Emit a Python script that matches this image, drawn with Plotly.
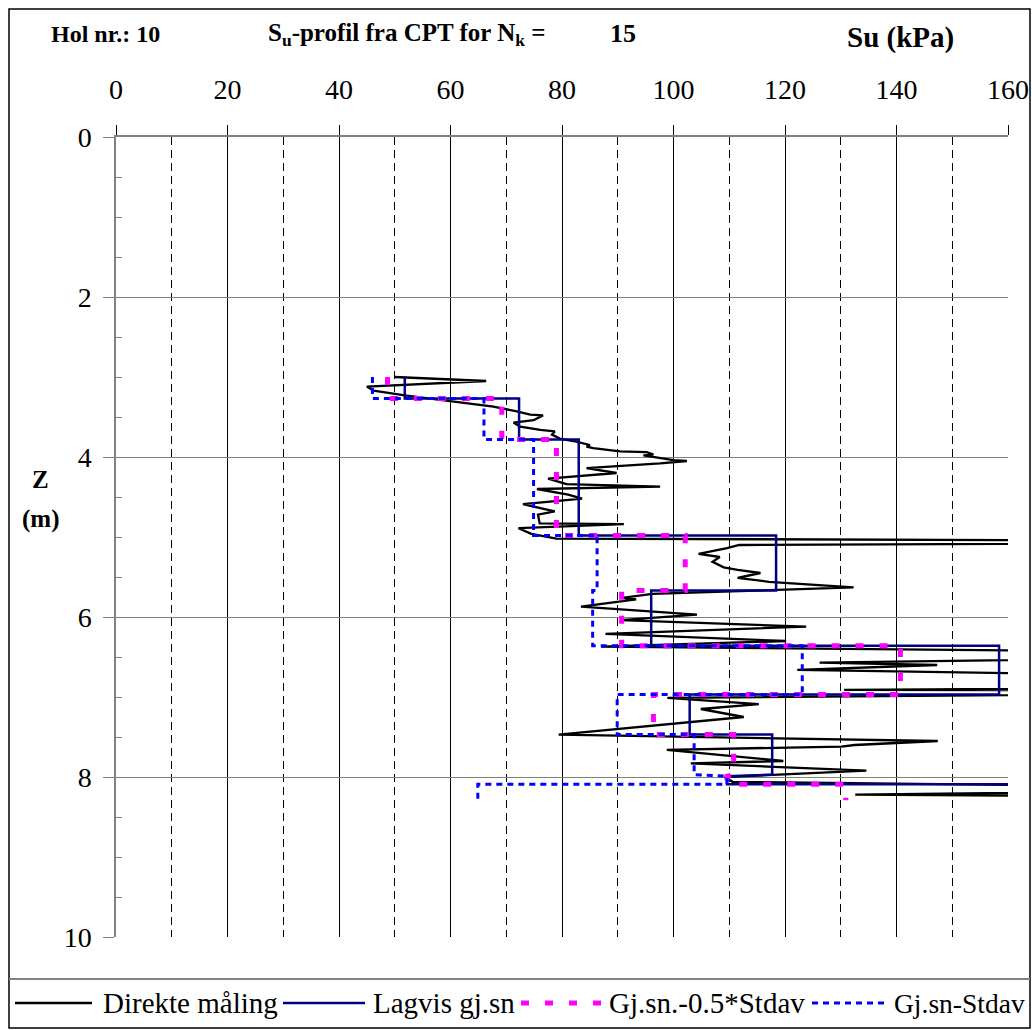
import plotly.graph_objects as go

# ---------------- data ----------------
# Direct measurement (Su in kPa vs depth Z in m)
su_direct = [50.0, 66.4, 45.0, 46.2, 51.8, 58.7, 63.5, 67.7, 71.9, 74.3, 76.6, 74.9, 71.3, 72.5,
             76.1, 78.7, 78.2, 79.6, 82.0, 85.0, 84.4, 85.6, 90.4, 95.2, 96.4, 94.6, 100.0, 102.4,
             97.6, 84.4, 89.8, 77.5, 80.8, 97.6, 75.5, 81.1, 83.6, 73.0, 78.7, 75.7, 76.0, 91.1,
             72.2, 74.5, 79.0, 260.0, 111.8, 109.6, 104.5, 108.3, 107.0, 109.0, 111.5, 115.6, 111.5,
             117.1, 132.3, 96.2, 90.8, 93.3, 83.4, 104.2, 90.5, 123.8, 87.8, 120.2, 87.0, 240.0,
             126.2, 147.3, 122.2, 300.0, 130.6, 250.0, 98.9, 115.3, 104.9, 112.6, 79.4, 147.4,
             132.5, 130.1, 98.8, 119.7, 103.1, 134.6, 109.2, 110.6, 230.0, 132.6, 220.0]
depth_direct = [3.00, 3.05, 3.12, 3.17, 3.23, 3.29, 3.33, 3.37, 3.43, 3.47, 3.48, 3.54, 3.57, 3.62,
                3.66, 3.68, 3.72, 3.77, 3.80, 3.85, 3.87, 3.89, 3.93, 3.94, 3.97, 3.98, 4.04, 4.05,
                4.08, 4.14, 4.20, 4.27, 4.34, 4.37, 4.40, 4.47, 4.52, 4.59, 4.68, 4.72, 4.83, 4.84,
                4.89, 4.96, 5.02, 5.06, 5.10, 5.14, 5.21, 5.25, 5.31, 5.38, 5.41, 5.45, 5.51,
                5.56, 5.63, 5.71, 5.76, 5.78, 5.87, 5.97, 6.04, 6.12, 6.21, 6.30, 6.37, 6.47,
                6.57, 6.60, 6.66, 6.85, 6.91, 6.93, 7.01, 7.09, 7.15, 7.25, 7.47, 7.55,
                7.60, 7.62, 7.66, 7.80, 7.83, 7.92, 8.00, 8.06, 8.15, 8.22, 8.26]

# Layer statistics
layer_top = [3.00, 3.27, 3.78, 4.98, 5.67, 6.36, 6.97, 7.47, 7.99, 8.09]
layer_bot = [3.27, 3.78, 4.98, 5.67, 6.36, 6.97, 7.47, 7.97, 8.09, 8.29]
layer_mean = [51.8, 72.3, 83.0, 118.4, 96.0, 158.4, 102.9, 117.7, 109.6, 197.0]
layer_mean_m05sd = [48.7, 69.2, 79.0, 102.1, 90.7, 140.7, 96.4, 110.8, 109.6, 130.9]
layer_mean_m1sd = [46.0, 66.0, 74.9, 86.3, 85.5, 123.1, 89.9, 103.7, 109.6, 64.9]

series_names = ["Direkte måling", "Lagvis gj.sn", "Gj.sn.-0.5*Stdav", "Gj.sn-Stdav"]
x_ticks = [0, 20, 40, 60, 80, 100, 120, 140, 160]
x_minor = [10, 30, 50, 70, 90, 110, 130, 150]
y_ticks = [0, 2, 4, 6, 8, 10]
y_minor = [0.5, 1, 1.5, 2.5, 3, 3.5, 4.5, 5, 5.5, 6.5, 7, 7.5, 8.5, 9, 9.5]

FONT = "Liberation Serif"
W, H = 1032, 1030
L, R, T, B = 116, 24, 137, 93
PW, PH = W - L - R, H - T - B


def px(x):
    return (x - L) / PW


def py(y):
    return (H - B - y) / PH


def steps(values):
    xs, ys = [], []
    for v, t, b in zip(values, layer_top, layer_bot):
        xs += [v, v]
        ys += [t, b]
    return xs, ys


styles = [
    dict(color="black", width=2.3),
    dict(color="#000080", width=2.5),
    dict(color="#FF00FF", width=5, dash="8px,16px"),
    dict(color="#0000FF", width=3, dash="6px,5px"),
]

fig = go.Figure()
fig.add_trace(go.Scatter(x=su_direct, y=depth_direct, mode="lines", name=series_names[0],
                         line=styles[0], showlegend=False))
for name, vals, st in zip(series_names[1:], [layer_mean, layer_mean_m05sd, layer_mean_m1sd], styles[1:]):
    xs, ys = steps(vals)
    fig.add_trace(go.Scatter(x=xs, y=ys, mode="lines", name=name, line=st, showlegend=False))

fig.update_layout(
    width=W, height=H,
    margin=dict(l=L, r=R, t=T, b=B, autoexpand=False),
    paper_bgcolor="white", plot_bgcolor="white",
    font=dict(family=FONT, color="black"),
    xaxis=dict(
        side="top", range=[0, 160], tickvals=x_ticks, ticks="outside", ticklen=10,
        tickcolor="black", tickwidth=1, showline=True, linecolor="#808080", linewidth=1.5,
        showgrid=True, gridcolor="black", gridwidth=1, zeroline=False, automargin=False,
        tickfont=dict(family=FONT, size=28, color="black"), ticklabelstandoff=15,
        minor=dict(tickvals=x_minor, showgrid=True, gridcolor="black", griddash="8px,5px", gridwidth=1),
    ),
    yaxis=dict(
        range=[10, 0], tickvals=y_ticks, ticks="outside", ticklen=11, tickcolor="#808080",
        showline=True, linecolor="#808080", linewidth=1.5, showgrid=True, gridcolor="#808080",
        gridwidth=1, zeroline=False, automargin=False,
        tickfont=dict(family=FONT, size=28, color="black"), ticklabelstandoff=6,
        minor=dict(tickvals=y_minor, ticks="inside", ticklen=6, tickcolor="#808080", showgrid=False),
    ),
)

shapes = []
annotations = []
# outer border and legend separator
shapes.append(dict(type="rect", xref="paper", yref="paper", x0=px(9), x1=px(1030), y0=py(1028), y1=py(9),
                   line=dict(color="black", width=1.5), layer="above"))
shapes.append(dict(type="line", xref="paper", yref="paper", x0=px(9), x1=px(1030), y0=py(979), y1=py(979),
                   line=dict(color="#808080", width=2)))

# header texts
annotations.append(dict(text="<b>Hol nr.: 10</b>", x=px(49), y=py(34), xanchor="left", yanchor="middle",
                        font=dict(family=FONT, size=24)))
annotations.append(dict(text="<b>S<sub>u</sub>-profil fra CPT for N<sub>k</sub> =</b>", x=px(266), y=py(34),
                        xanchor="left", yanchor="middle", font=dict(family=FONT, size=25)))
annotations.append(dict(text="<b>15</b>", x=px(608), y=py(33), xanchor="left", yanchor="middle",
                        font=dict(family=FONT, size=26)))
annotations.append(dict(text="<b>Su (kPa)</b>", x=px(845), y=py(38), xanchor="left", yanchor="middle",
                        font=dict(family=FONT, size=29)))
annotations.append(dict(text="<b>Z</b>", x=px(40), y=py(479), xanchor="center", yanchor="middle",
                        font=dict(family=FONT, size=25)))
annotations.append(dict(text="<b>(m)</b>", x=px(40), y=py(519), xanchor="center", yanchor="middle",
                        font=dict(family=FONT, size=25)))

# manual legend
leg_lines = [(15, 92), (283, 365), (521, 602), (812, 885)]
leg_text_x = [101, 371, 607, 892]
leg_sizes = [29, 29, 29, 27.5]
leg_y = 1003
for (x0, x1), tx, fs, name, st in zip(leg_lines, leg_text_x, leg_sizes, series_names, styles):
    ln = dict(color=st["color"], width=st["width"])
    if "dash" in st:
        ln["dash"] = st["dash"]
    shapes.append(dict(type="line", xref="paper", yref="paper", x0=px(x0), x1=px(x1), y0=py(leg_y),
                       y1=py(leg_y), line=ln))
    annotations.append(dict(text=name, x=px(tx), y=py(leg_y), xanchor="left", yanchor="middle",
                            font=dict(family=FONT, size=fs)))

for a in annotations:
    a.update(xref="paper", yref="paper", showarrow=False)

fig.update_layout(shapes=shapes, annotations=annotations)
fig.write_html("out.html")
